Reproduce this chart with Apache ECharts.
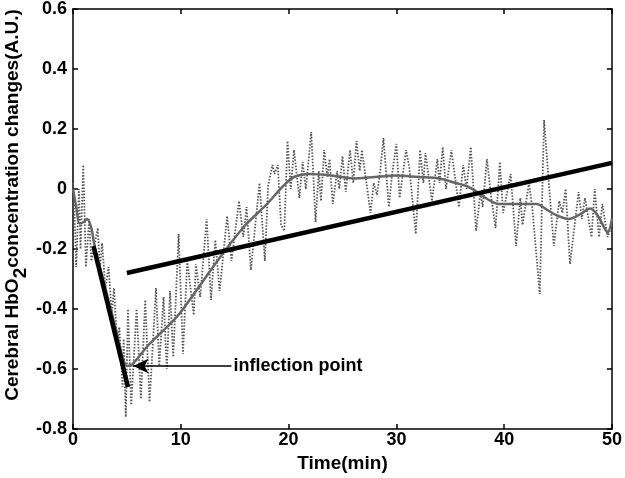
<!DOCTYPE html>
<html><head><meta charset="utf-8">
<script src="https://cdn.jsdelivr.net/npm/echarts@6/dist/echarts.min.js"></script>
<style>html,body{margin:0;padding:0;background:#fff}#c{width:625px;height:478px}</style>
</head><body><div id="c"></div>
<script>
// Raw (noisy) HbO2 signal: time (min) and value (A.U.)
var rawT = [0,0.1,0.3,0.55,0.7,0.95,1.2,1.5,1.7,2.3,2.5,2.7,3.0,3.3,3.6,3.8,4.1,4.3,4.6,4.7,4.9,5.1,5.4,5.9,6.3,6.7,7.1,7.7,8.0,8.4,8.7,9.0,9.3,9.8,10.2,10.6,11.2,11.4,11.8,12.4,12.8,13.2,13.6,14.3,14.7,15.4,15.8,16.1,16.5,17.3,17.8,18.1,18.5,18.7,19.0,19.3,19.6,19.9,20.2,20.5,21.0,21.3,21.6,22.1,22.5,22.8,23.0,23.3,23.6,23.8,24.1,24.5,24.7,25.0,25.3,25.7,26.0,26.3,26.6,26.8,27.6,27.9,28.2,28.5,28.8,29.3,29.6,30.0,30.3,30.9,31.2,31.8,32.2,32.5,32.7,33.3,33.8,34.0,34.3,34.6,35.1,35.8,36.2,36.5,36.9,37.4,37.8,38.0,38.4,38.8,39.2,39.6,39.9,40.6,41.1,41.5,41.7,42.3,42.6,43.3,43.7,44.1,44.6,45.1,45.4,45.7,46.1,46.9,47.2,47.5,48.1,48.4,48.8,49.1,49.6,50];
var rawV = [0.02,-0.03,-0.26,0.0,-0.2,0.08,-0.26,-0.10,-0.24,-0.13,-0.27,-0.18,-0.33,-0.26,-0.42,-0.33,-0.52,-0.46,-0.66,-0.50,-0.76,-0.40,-0.72,-0.40,-0.70,-0.37,-0.71,-0.33,-0.59,-0.36,-0.60,-0.34,-0.56,-0.15,-0.55,-0.24,-0.42,-0.25,-0.36,-0.10,-0.37,-0.17,-0.34,-0.09,-0.24,-0.04,-0.16,-0.06,-0.27,0.02,-0.24,0.01,0.08,0.05,0.08,-0.12,-0.14,0.16,0.0,0.13,-0.03,0.09,0.0,0.19,-0.11,0.06,-0.04,0.13,0.04,0.10,-0.05,0.06,0.0,0.11,-0.01,0.13,0.02,0.16,0.06,0.13,-0.08,0.02,-0.02,0.06,0.17,-0.06,0.05,0.15,-0.03,0.13,0.07,-0.15,0.13,0.02,0.12,-0.04,0.10,0.02,0.14,0.0,0.13,-0.06,0.08,0.0,0.14,-0.14,-0.01,-0.06,0.10,-0.03,-0.13,0.09,-0.08,0.05,-0.19,-0.03,-0.12,0.02,-0.06,-0.35,0.23,0.04,-0.19,-0.04,-0.08,0.0,-0.25,-0.01,-0.10,-0.03,-0.16,0.0,-0.16,-0.05,-0.16,-0.12];
// Smoothed signal
var smT = [0,0.3,0.6,1.0,1.3,1.7,2.0,3.0,4.0,4.6,5.0,5.5,7,9,10,12,14,16,18,19.5,20.5,22,24,26,28,30,32,34,35.5,36.5,37.5,38.5,39.5,40.5,42,43,44,45,46,47,48,48.7,49.3,49.6,50];
var smV = [0.0,-0.06,-0.115,-0.11,-0.10,-0.13,-0.19,-0.33,-0.47,-0.56,-0.59,-0.585,-0.52,-0.45,-0.41,-0.31,-0.21,-0.12,-0.05,0.01,0.04,0.05,0.045,0.035,0.04,0.045,0.04,0.035,0.02,0.01,-0.01,-0.035,-0.05,-0.05,-0.05,-0.05,-0.07,-0.09,-0.10,-0.085,-0.065,-0.09,-0.13,-0.145,-0.10];
// Fitted trend lines
var fit1T = [1.9, 5.1], fit1V = [-0.19, -0.66];
var fit2T = [5.0, 50], fit2V = [-0.28, 0.087];
// Annotation
var arrowFrom = [14.7, -0.59], arrowTo = [5.6, -0.59];
var annoText = 'inflection point';
var xTicks = {min:0, max:50, interval:10};
var yTicks = {min:-0.8, max:0.6, interval:0.2};

function zip(a,b){return a.map(function(v,i){return [v,b[i]];});}
var FONT = '"Liberation Sans", Arial, sans-serif';
var lab = {fontFamily:FONT, fontWeight:'bold', fontSize:18, color:'#000'};
var axLine = {show:true, onZero:false, lineStyle:{color:'#000', width:1.5}};
var tick = {inside:true, length:5, lineStyle:{color:'#000', width:1.5}};
var chart = echarts.init(document.getElementById('c'));
chart.setOption({
  animation:false,
  grid:{left:73, right:11, top:8, bottom:49},
  xAxis:[
    {type:'value', min:xTicks.min, max:xTicks.max, interval:xTicks.interval, position:'bottom',
     axisLine:axLine, axisTick:tick,
     axisLabel:Object.assign({margin:2}, lab), splitLine:{show:false},
     name:'Time(min)', nameLocation:'middle', nameGap:24, nameTextStyle:Object.assign({}, lab, {fontSize:19})},
    {type:'value', min:xTicks.min, max:xTicks.max, interval:xTicks.interval, position:'top',
     axisLine:axLine, axisTick:tick, axisLabel:{show:false}, splitLine:{show:false}}
  ],
  yAxis:[
    {type:'value', min:yTicks.min, max:yTicks.max, interval:yTicks.interval, position:'left',
     axisLine:axLine, axisTick:tick,
     axisLabel:Object.assign({margin:6, formatter:function(v){return Math.abs(v)<1e-9?'0':(+v.toFixed(1)).toString();}}, lab),
     splitLine:{show:false}},
    {type:'value', min:yTicks.min, max:yTicks.max, interval:yTicks.interval, position:'right',
     axisLine:axLine, axisTick:tick, axisLabel:{show:false}, splitLine:{show:false}}
  ],
  graphic:[{
    type:'text', x:13, y:205, rotation:Math.PI/2,
    style:{
      rich:{
        a:{fontFamily:FONT, fontWeight:'bold', fontSize:19, fill:'#000'},
        s:{fontFamily:FONT, fontWeight:'bold', fontSize:19, fill:'#000', padding:[15,0,0,0]}
      },
      text:'{a|Cerebral HbO}{s|2}{a|concentration changes(A.U.)}',
      align:'center', verticalAlign:'middle'
    }
  }],
  series:[
    {type:'line', data:zip(rawT, rawV), showSymbol:false, symbol:'none',
     lineStyle:{color:'#555', width:1.8, type:[1.5,1.6]}, z:2},
    {type:'line', data:zip(smT, smV), smooth:0.3, symbol:'none',
     lineStyle:{color:'#666', width:2.5}, z:3},
    {type:'line', data:zip(fit1T, fit1V), symbol:'none', lineStyle:{color:'#000', width:4.5}, z:4},
    {type:'line', data:zip(fit2T, fit2V), symbol:'none', lineStyle:{color:'#000', width:4.5}, z:4,
     markLine:{silent:true, animation:false, symbol:['none','arrow'], symbolSize:[11,15],
       lineStyle:{color:'#000', width:1.5, type:'solid'},
       label:{show:true, position:'start', distance:2, formatter:annoText,
              fontFamily:FONT, fontWeight:'bold', fontSize:18, color:'#000'},
       data:[[{coord:arrowFrom},{coord:arrowTo}]]}}
  ]
});
</script></body></html>
